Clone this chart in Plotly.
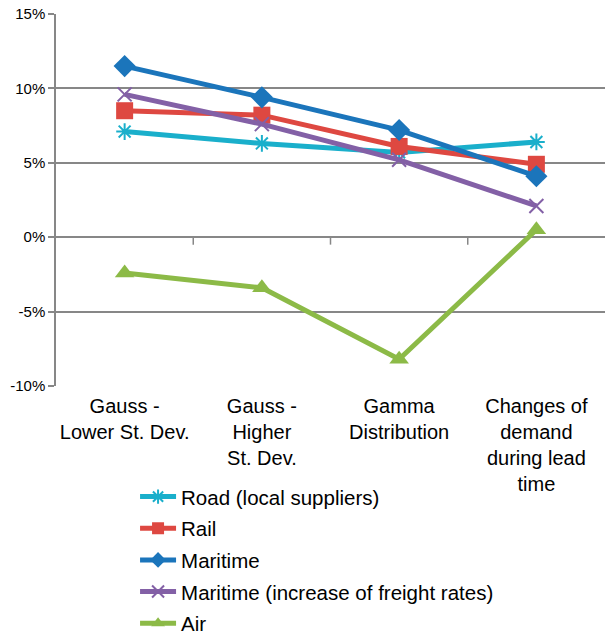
import plotly.graph_objects as go

categories = ["Gauss -<br>Lower St. Dev.", "Gauss -<br>Higher<br>St. Dev.", "Gamma<br>Distribution", "Changes of<br>demand<br>during lead<br>time"]
road = [7.1, 6.3, 5.7, 6.4]
rail = [8.5, 8.2, 6.1, 4.9]
maritime = [11.5, 9.4, 7.2, 4.1]
maritime_inc = [9.6, 7.6, 5.2, 2.1]
air = [-2.4, -3.4, -8.2, 0.5]
y_ticks = [-10, -5, 0, 5, 10, 15]
y_labels = ["-10%", "-5%", "0%", "5%", "10%", "15%"]

series = [
    ("Road (local suppliers)", road, "#1AAFCB", dict(symbol="asterisk-open", size=14, line=dict(width=2, color="#1AAFCB"))),
    ("Rail", rail, "#DE4841", dict(symbol="square", size=17)),
    ("Maritime", maritime, "#1B75BB", dict(symbol="diamond", size=17)),
    ("Maritime (increase of freight rates)", maritime_inc, "#8360A6", dict(symbol="x-thin-open", size=14, line=dict(width=2, color="#8360A6"))),
    ("Air", air, "#8CBA47", dict(symbol="triangle-up", size=17)),
]

fig = go.Figure()
for i, (name, vals, color, marker) in enumerate(series):
    m = dict(color=color)
    m.update(marker)
    fig.add_trace(go.Scatter(
        x=list(range(len(categories))), y=vals, name=name, mode="lines+markers",
        line=dict(color=color, width=5), marker=m, legendgroup=str(i),
    ))

grid = "#878787"
# category tick marks on the 0% line
for k in range(len(categories) - 1):
    fig.add_shape(type="line", xref="x", yref="y", x0=k + 0.5, x1=k + 0.5,
                  y0=0, y1=-0.5, line=dict(color=grid, width=1.5))

fig.update_layout(
    width=605, height=640,
    margin=dict(l=56, r=0, t=14, b=254, autoexpand=False),
    plot_bgcolor="white", paper_bgcolor="white",
    font=dict(family="Liberation Sans, Arial", color="#000000"),
    showlegend=True,
    legend=dict(
        x=0.144, y=0.255, xanchor="left", yanchor="top", yref="container",
        font=dict(size=20.5), tracegroupgap=2, itemwidth=36,
        itemsizing="constant", bgcolor="rgba(0,0,0,0)",
    ),
    xaxis=dict(
        tickmode="array", tickvals=list(range(len(categories))), ticktext=categories,
        range=[-0.5, len(categories) - 0.5], showgrid=False, zeroline=False,
        showline=False, ticks="", tickfont=dict(size=20), ticklabelstandoff=6,
        automargin=False,
    ),
    yaxis=dict(
        tickmode="array", tickvals=y_ticks, ticktext=y_labels, range=[-10, 15],
        showgrid=True, gridcolor=grid, gridwidth=1.5, zeroline=False,
        showline=True, linecolor=grid, linewidth=1.5,
        ticks="outside", ticklen=6, tickcolor=grid, tickwidth=1.5,
        tickfont=dict(size=15), automargin=False,
    ),
)

fig.write_html("out.html")
